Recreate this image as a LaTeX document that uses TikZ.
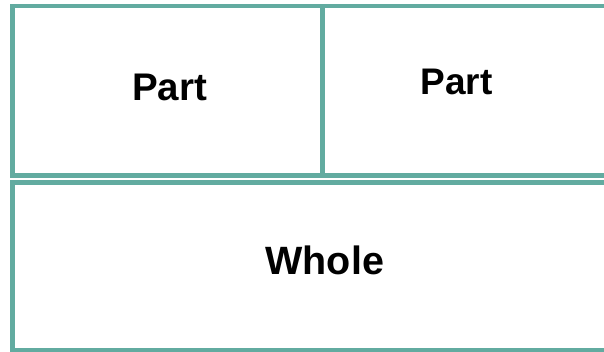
\documentclass[tikz,border=0pt]{standalone}
\usepackage{fontspec}
\setmainfont{Liberation Sans}
\definecolor{tealline}{RGB}{98,171,160}
\begin{document}
\begin{tikzpicture}[x=1pt,y=1pt,inner sep=0pt,outer sep=0pt,
partbox/.style={draw=tealline,line width=4.5pt,rectangle,fill=white},
boxtext/.style={font=\bfseries,anchor=base}]
\useasboundingbox (0,0) rectangle (604,-352);

\draw (167.5,-90.75) node[partbox,minimum width=310,minimum height=169.5] (partL) {};
\draw (511.25,-90.75) node[partbox,minimum width=377.5,minimum height=169.5] (partR) {};
\draw (356.25,-266.5) node[partbox,minimum width=687.5,minimum height=168] (whole) {};

\draw (169.5,-100.7) node[boxtext,font=\fontsize{38.5}{42}\selectfont\bfseries] (partLtext) {Part};
\draw (456.7,-94.3) node[boxtext,font=\fontsize{37}{41}\selectfont\bfseries] (partRtext) {Part};
\draw (324.7,-274.3) node[boxtext,font=\fontsize{39.5}{44}\selectfont\bfseries] (wholetext) {Whole};
\end{tikzpicture}
\end{document}
